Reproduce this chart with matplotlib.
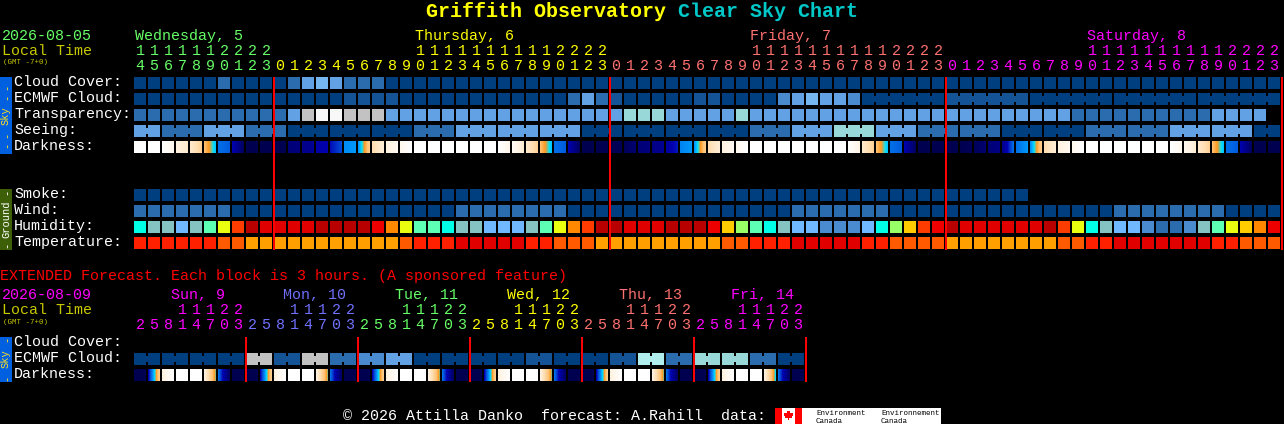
import numpy as np
import matplotlib
matplotlib.use("Agg")
import matplotlib.pyplot as plt
from matplotlib.colors import LinearSegmentedColormap
from matplotlib.patches import Rectangle, Polygon

plt.rcParams['text.antialiased'] = True
plt.rcParams['text.hinting'] = 'native'
plt.rcParams['font.family'] = ['Liberation Mono', 'DejaVu Sans Mono']

W, H = 1284, 424

# ---- palette of the sky colour scale
D0, D1, D2, D3, D4, D5 = '#003F7F', '#135396', '#2B6CAF', '#4A8BD0', '#62A2E4', '#76B6F0'
TL, PC, GR, WH = '#98D8D8', '#B0EEEE', '#C2C2C2', '#F8F8F8'
SKY = [D0, D1, D2, D3, D4, D5, TL, PC, GR, WH]
# ---- ground palettes
CY, TG, LB, MG, YL, RO, DR, MR, BR, OR, GY, LG = ('#00FFE6', '#85C2C2', '#70B8FF', '#5CFFB4', '#EAFF10', '#FF3C00',
                                                 '#B80000', '#E00000', '#EE0000', '#FF8800', '#FFCC00', '#99FF66')
HT1, HT2, HT3, HT4 = '#FFA000', '#FF5A00', '#FF2000', '#E00000'

HOURS_TOP = [14,15,16,17,18,19,20,21,22,23] + list(range(24))*3
DAY_TOP = ['Wednesday, 5', 'Thursday, 6', 'Friday, 7', 'Saturday, 8']
DAY_TOP_X = [135, 415, 750, 1087]
DAY_COLORS_TOP = ['#66FF66', '#FFFF00', '#FF7070', '#FF00FF']

cloud = [0,0,0,0,0,0,2,0,0,0, 0,2,4,5,4,2,2,2] + [0]*64
ecmwf = [0]*15 + [1,1,1,1] + [0]*12 + [2,4,2,1] + [0]*5 + [1,1] + [0]*4 + [3,4,5,4,4,3] + \
        [0]*6 + [1]*6 + [0]*6 + [0]*6 + [0]*6
ecmwf_join_from = 52
transp = [2]*11 + [4,8,9,9,8,8,8,4,4,4] + [4]*14 + [6,6,6] + [4]*5 + [6] + [4]*23 + [2]*10 + [4]*4
# seeing: (value, number of hours in the forecast block)
seeing_val = [4,2,4,2,0,0,0,2,4,4,4,0,0,0,0,2,4,6,4,2,2,0,0,2,2,4,4,0]
seeing_len = [2,3,3,3,3,3,3,3,3,3,3,3,3,3,3,3,3,3,3,3,3,3,3,3,3,3,3,2]

smoke = [0]*64
wind = [2]*7 + [0]*16 + [2]*8 + [0]*16 + [2]*7 + [0]*16 + [2]*8 + [0]*4
humid = [CY,TG,TG,LB,TG,MG,YL,RO,DR,MR,MR,MR,MR,DR,DR,DR,DR,BR,OR,YL,MG,
         MG,CY,TG,TG,LB,LB,LB,TG,MG,YL,OR,RO,DR,DR,MR,MR,MR,DR,DR,DR,BR,GY,LG,MG,CY,TG,LB,LB,D3,D3,D3,
         LB,CY,LG,GY,RO,BR,DR,MR,MR,MR,MR,MR,MR,DR,RO,YL,CY,TG,LB,LB,D3,D2,D2,D3,TG,MG,YL,GY,OR,BR]
temper = [HT3]*6 + [HT2,HT2] + [HT1]*11 + [HT2,HT3,HT3,HT3] + [HT4]*5 + [HT3,HT3] + [HT2]*3 + [HT1]*9 + [HT2,HT2] + \
         [HT3]*3 + [HT4]*5 + [HT3,HT3] + [HT2]*4 + [HT1]*8 + [HT2,HT2,HT3,HT3] + [HT4]*7 + [HT3,HT3] + [HT2]*3

# darkness level at left and right side of every block (0 day ... 8 deep night)
dark_l = [0,0,0,1,1.4,3,5,6,8,8, 8,7.2,6.8,6.2,5.9,4.7,4.6,2,1,.5,0,
          0,0,0,0,0,0,.3,1.4,3,5,6,8,8,8,7.8,7.2,6.9,6.3,4.8,4.6,2,1,.5,0,0,0,0,0,0,0,0,
          1.4,3,5,6,8,8,8,8,7.8,7.2,6.8,5,4.7,2,1,.5,0,0,0,0,0,0,0,.5,1.4,3,5,6,8,8]
dark_r = [0,0,.6,1.4,2.4,4.2,5.2,7.6,8,8, 8,7,6.6,6,5.4,4.6,2.6,1.2,.5,0,0,
          0,0,0,0,0,.7,1.3,2.4,4.2,5.2,7.6,8,8,7.8,7.3,7,6.6,5.8,4.6,2.6,1.2,.5,0,0,0,0,0,0,0,0,.8,
          2.4,4.2,5.2,7.6,8,8,8,7.8,7.3,6.9,5,4.6,2.6,1.2,.5,0,0,0,0,0,0,0,.5,1.3,2.4,4.2,5.2,7.6,8,8]

HOURS_EXT = [2,5,8,11,14,17,20,23]*6
DAY_EXT = ['Sun, 9', 'Mon, 10', 'Tue, 11', 'Wed, 12', 'Thu, 13', 'Fri, 14']
DAY_EXT_X = [171, 283, 395, 507, 619, 731]
DAY_COLORS_EXT = ['#FF00FF', '#7070FF', '#66FF66', '#FFFF00', '#FF7070', '#FF00FF']
ecmwf_ext = [0,0,0,0,8,1,8,2,3,4,0,0,0,0,1,0,0,1,7,2,6,6,2,0]
dark_ext_l = [8,6,1,0,0,1,5,8, 8,6,1,0,0,1,5,8, 8,6,1,0,0,1,5,8, 8,6,1,0,0,1,5,8, 8,6,1,0,0,1,5,8, 8,6,1,0,0,1,5,8]
dark_ext_r = [8,2.5,0,0,0,3.7,7.5,8, 8,2.5,0,0,0,3.7,7.5,8, 8,2.5,0,0,0,3.7,7.5,8, 8,2.5,0,0,0,3.7,7.5,8, 8,2.5,0,0,0,3.7,7.5,8, 8,2.5,0,0,0,4,7.5,8]

DARK_LEVELS = [(0,'#FFFFFF'),(1,'#FFF2E0'),(2,'#FFDDB0'),(3,'#FFC070'),(3.5,'#FF9A20'),(4,'#00E0FF'),
               (4.5,'#00A0FF'),(5,'#0070E8'),(5.5,'#0040D0'),(6,'#0000B0'),(7,'#000080'),(8,'#000050')]
dark_cmap = LinearSegmentedColormap.from_list('dark', [(v/8, c) for v, c in DARK_LEVELS], N=512)

ROWS_TOP = ['Cloud Cover:', 'ECMWF Cloud:', 'Transparency:', 'Seeing:', 'Darkness:']
ROWS_GND = ['Smoke:', 'Wind:', 'Humidity:', 'Temperature:']
ROWS_EXT = ['Cloud Cover:', 'ECMWF Cloud:', 'Darkness:']

fig = plt.figure(figsize=(W/100, H/100), dpi=100, facecolor='black')
ax = fig.add_axes([0, 0, 1, 1])
ax.set_xlim(0, W); ax.set_ylim(H, 0)
ax.axis('off')

X0, PITCH, CELL = 134, 14, 12

def cell_x(i):
    return X0 + PITCH*i

def cell(i, y, color):
    ax.add_patch(Rectangle((cell_x(i), y), CELL, CELL, fc=color, ec='none', lw=0, antialiased=False))

def bridge(i, y, color):
    ax.add_patch(Rectangle((cell_x(i)+CELL, y+3), PITCH-CELL, 6, fc=color, ec='none', lw=0, antialiased=False))

def gradient(i, y, l, r):
    g = np.linspace(l, r, CELL)[None, :]
    ax.imshow(g, cmap=dark_cmap, vmin=0, vmax=8, extent=(cell_x(i), cell_x(i)+CELL, y+CELL, y),
              interpolation='nearest', aspect='auto', zorder=2)

def text(x, y, s, color='white', size=10.8, **kw):
    ax.text(x, y, s, color=color, fontsize=size, va='baseline', ha=kw.pop('ha', 'left'), **kw)

def vtext(x, y, s, color, size):
    ax.text(x, y, s, color=color, fontsize=size, va='center', ha='center', rotation=90)

# ---- title
text(426, 17, 'Griffith Observatory', '#FFFF00', 14.4, fontweight='bold')
text(678, 17, 'Clear Sky Chart', '#00C8C8', 14.4, fontweight='bold')

# ---- top header
text(2, 40, '2026-08-05', '#66FF66')
text(2, 55, 'Local Time', '#C8C800')
text(3, 64, '(GMT -7+0)', '#C8C800', 5.4)
for s, x, c in zip(DAY_TOP, DAY_TOP_X, DAY_COLORS_TOP):
    text(x, 40, s, c)
day_idx = 0
for i, h in enumerate(HOURS_TOP):
    if i and h == 0:
        day_idx += 1
    c = DAY_COLORS_TOP[day_idx]
    cx = cell_x(i) + 6
    if h >= 10:
        text(cx, 55, str(h//10), c, ha='center')
    text(cx, 70, str(h % 10), c, ha='center')

for k, s in enumerate(ROWS_TOP):
    text(14, 86 + 16*k, s)
for k, s in enumerate(ROWS_GND):
    text(14, 198 + 16*k, s)

# ---- sky rows
for i, v in enumerate(cloud):
    cell(i, 77, SKY[v])
for i, v in enumerate(ecmwf):
    cell(i, 93, SKY[v])
    if i >= ecmwf_join_from and i+1 < len(ecmwf) and ecmwf[i+1] == v and i not in (57, 63, 69, 75):
        bridge(i, 93, SKY[v])
for i, v in enumerate(transp):
    cell(i, 109, SKY[v])
i = 0
for v, n in zip(seeing_val, seeing_len):
    for j in range(n):
        cell(i, 125, SKY[v])
        if j < n-1:
            bridge(i, 125, SKY[v])
        i += 1
for i, (l, r) in enumerate(zip(dark_l, dark_r)):
    gradient(i, 141, l, r)

# ---- ground rows
for i, v in enumerate(smoke):
    cell(i, 189, SKY[v])
for i, v in enumerate(wind):
    cell(i, 205, SKY[v])
for i, c in enumerate(humid):
    cell(i, 221, c)
for i, c in enumerate(temper):
    cell(i, 237, c)

# ---- midnight lines
for i in (10, 34, 58, 82):
    ax.add_patch(Rectangle((cell_x(i)-1, 77), 2, 173, fc='#FF0000', ec='none', lw=0, antialiased=False, zorder=5))

# ---- sidebars
ax.add_patch(Rectangle((0, 77), 12, 77, fc='#0060E0', ec='none', antialiased=False))
ax.add_patch(Rectangle((0, 189), 12, 61, fc='#3C5F08', ec='none', antialiased=False))
ax.add_patch(Rectangle((0, 337), 12, 45, fc='#0060E0', ec='none', antialiased=False))
SIDE = 7.6
for y in (87, 97, 135, 145):
    vtext(6, y, '-', '#FFE020', SIDE)
vtext(6, 116, 'Sky', '#FFE020', SIDE)
for y in (192, 245):
    vtext(6, y, '-', 'white', SIDE)
vtext(6, 219, 'Ground', 'white', SIDE)
for y in (339, 378):
    vtext(6, y, '-', '#FFE020', SIDE)
vtext(6, 359, 'Sky', '#FFE020', SIDE)

# ---- extended
text(0, 280, 'EXTENDED Forecast. Each block is 3 hours. (A sponsored feature)', '#FF0000')
text(2, 299, '2026-08-09', '#FF00FF')
text(2, 314, 'Local Time', '#C8C800')
text(3, 324, '(GMT -7+0)', '#C8C800', 5.4)
for s, x, c in zip(DAY_EXT, DAY_EXT_X, DAY_COLORS_EXT):
    text(x, 299, s, c)
for i, h in enumerate(HOURS_EXT):
    c = DAY_COLORS_EXT[i//8]
    cx = cell_x(i) + 6
    if h >= 10:
        text(cx, 314, str(h//10), c, ha='center')
    text(cx, 329, str(h % 10), c, ha='center')
for k, s in enumerate(ROWS_EXT):
    text(14, 346 + 16*k, s)
for k, v in enumerate(ecmwf_ext):
    cell(2*k, 353, SKY[v]); cell(2*k+1, 353, SKY[v]); bridge(2*k, 353, SKY[v])
for i, (l, r) in enumerate(zip(dark_ext_l, dark_ext_r)):
    gradient(i, 369, l, r)
for i in (8, 16, 24, 32, 40, 48):
    ax.add_patch(Rectangle((cell_x(i)-1, 337), 2, 45, fc='#FF0000', ec='none', lw=0, antialiased=False, zorder=5))

# ---- footer
text(343, 420, '\u00a9 2026 Attilla Danko  forecast: A.Rahill  data:', 'white')
ax.add_patch(Rectangle((775, 408), 166, 16, fc='white', ec='none', antialiased=False))
ax.add_patch(Rectangle((775, 408), 7, 16, fc='#FF0000', ec='none', antialiased=False))
ax.add_patch(Rectangle((795, 408), 7, 16, fc='#FF0000', ec='none', antialiased=False))
ax.add_patch(Polygon([(788.5,411),(790,413.5),(792.5,414),(791.5,417),(789,417.5),(789,420),(788,420),(788,417.5),
                      (785.5,417),(784.5,414),(787,413.5)], fc='#FF0000', ec='none', antialiased=False))
text(816, 415, 'Environment', 'black', 5.4)
text(816, 423, 'Canada', 'black', 5.4)
text(881, 415, 'Environnement', 'black', 5.4)
text(881, 423, 'Canada', 'black', 5.4)

ax.set_xlim(0, W); ax.set_ylim(H, 0)
fig.savefig('out.png', dpi=100, facecolor='black')
